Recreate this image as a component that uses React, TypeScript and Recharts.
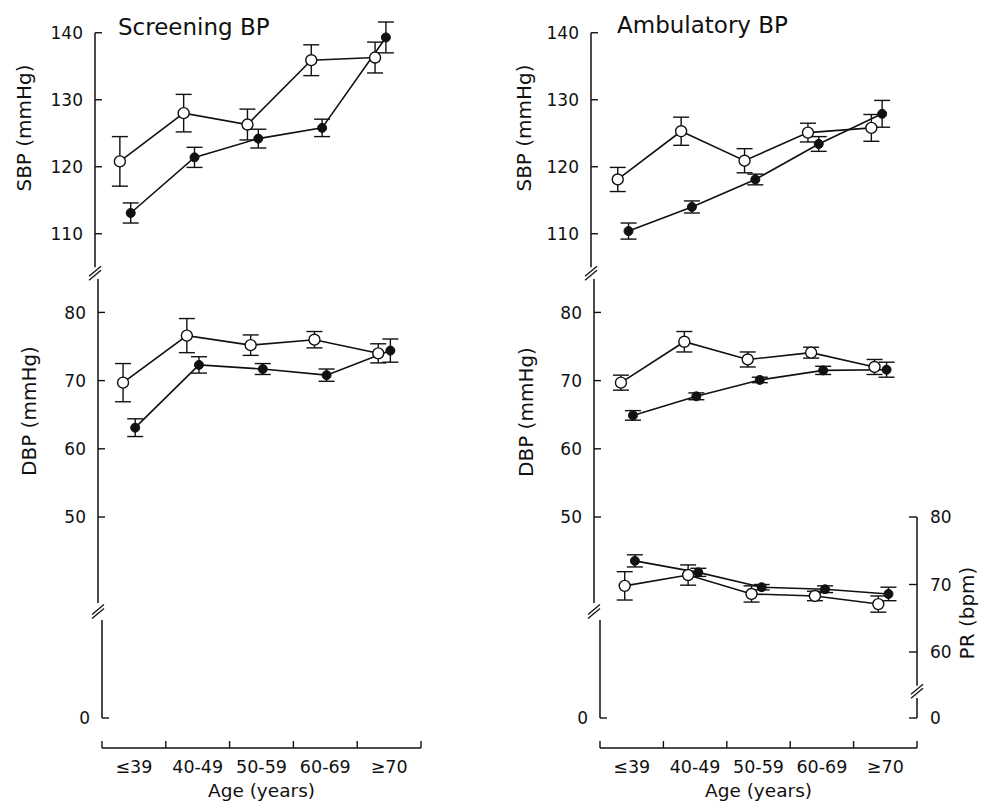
import React from 'react';
import { LineChart, Line, XAxis, YAxis, ErrorBar, ReferenceLine } from 'recharts';

const FONT = "'DejaVu Sans', 'Liberation Sans', Arial, sans-serif";
const INK = '#111';

// ---------------- data ----------------
const ageGroups = ['≤39', '40-49', '50-59', '60-69', '≥70'];
const sbpTicks = [110, 120, 130, 140];
const dbpTicks = [50, 60, 70, 80];
const prTicks = [60, 70, 80];
const zeroTicks = [0];

// Screening BP (open circles / filled circles), mean and error
const screenSbpOpen = [120.8, 128.0, 126.3, 135.9, 136.3];
const screenSbpOpenErr = [3.7, 2.8, 2.3, 2.3, 2.3];
const screenSbpFilled = [113.1, 121.4, 124.2, 125.8, 139.3];
const screenSbpFilledErr = [1.5, 1.5, 1.4, 1.3, 2.3];
const screenDbpOpen = [69.7, 76.6, 75.2, 76.0, 74.0];
const screenDbpOpenErr = [2.8, 2.5, 1.5, 1.2, 1.4];
const screenDbpFilled = [63.1, 72.3, 71.7, 70.8, 74.4];
const screenDbpFilledErr = [1.3, 1.2, 0.8, 0.9, 1.7];

// Ambulatory BP
const ambSbpOpen = [118.1, 125.3, 120.9, 125.1, 125.8];
const ambSbpOpenErr = [1.8, 2.1, 1.8, 1.4, 2.0];
const ambSbpFilled = [110.4, 114.0, 118.1, 123.4, 127.9];
const ambSbpFilledErr = [1.2, 0.9, 0.8, 1.1, 2.0];
const ambDbpOpen = [69.7, 75.7, 73.1, 74.1, 72.0];
const ambDbpOpenErr = [1.1, 1.5, 1.1, 0.8, 1.1];
const ambDbpFilled = [64.9, 67.7, 70.1, 71.5, 71.6];
const ambDbpFilledErr = [0.7, 0.5, 0.4, 0.6, 1.1];
const ambPrOpen = [69.8, 71.4, 68.6, 68.3, 67.1];
const ambPrOpenErr = [2.1, 1.5, 1.2, 0.7, 1.2];
const ambPrFilled = [73.5, 71.8, 69.6, 69.3, 68.6];
const ambPrFilledErr = [0.9, 0.6, 0.4, 0.5, 1.0];

// ---------------- layout ----------------
const DODGE_SBP: [number, number] = [-0.22, -0.05];
const DODGE_DBP: [number, number] = [-0.17, 0.02];
const DODGE_PR: [number, number] = [-0.11, 0.05];

type Geom = { ref: number; refPx: number; ppu: number; domain: [number, number] };
const pxOf = (g: Geom, v: number) => g.refPx + (g.ref - v) * g.ppu;

const SBP_G: Geom = { ref: 140, refPx: 32.3, ppu: 6.7, domain: [105, 142.5] };
const DBP_G: Geom = { ref: 80, refPx: 312.7, ppu: 6.82, domain: [37.4, 84.9] };
const PR_G: Geom = { ref: 80, refPx: 516.7, ppu: 6.75, domain: [55, 80] };
const BOT_G: Geom = { ref: 0, refPx: 718, ppu: 98, domain: [-30 / 98, 1] };
const BOT_RIGHT_TOP = 20 / 98;

type PanelGeom = { x0: number; x5: number; axisX: [number, number, number] };
const LEFT_P: PanelGeom = { x0: 102, x5: 421, axisX: [95, 98, 102] };
const RIGHT_P: PanelGeom = { x0: 600, x5: 917, axisX: [591, 594, 600] };

const PAD = 70;
const PAD_T = 20;
const PAD_B = 70;
const Y_AXIS_W = 50;
const X_AXIS_H = 30;

const xTickVals: number[] = [];
for (let i = 0; i <= ageGroups.length; i++) {
  xTickVals.push(i);
  if (i < ageGroups.length) xTickVals.push(i + 0.5);
}

type Pt = { x: number; y: number; e: number };
const toPoints = (vals: number[], errs: number[], dodge: number): Pt[] =>
  vals.map((v, i) => ({ x: i + 0.5 + dodge, y: v, e: errs[i] }));

// ---------------- ticks ----------------
const BreakMark = ({ x, y }: { x: number; y: number }) => (
  <g stroke={INK} strokeWidth={1.3}>
    <line x1={x - 6} y1={y + 3} x2={x + 6} y2={y - 7} />
    <line x1={x - 6} y1={y + 7} x2={x + 6} y2={y - 3} />
  </g>
);

const makeLeftTick = (breakVal: number | null, breakDy: number) => (p: any) => {
  const { x, y, payload } = p;
  const v = payload.value;
  if (breakVal !== null && v === breakVal) return <BreakMark x={x} y={y + breakDy} />;
  return (
    <g>
      <line x1={x} x2={x + 7} y1={y} y2={y} stroke={INK} strokeWidth={1.4} />
      <text x={x - 12} y={y} dy="0.36em" textAnchor="end" fontSize={17} fontFamily={FONT} fill={INK}>
        {v}
      </text>
    </g>
  );
};

const makeRightTick = (breakVal: number | null, breakDy: number) => (p: any) => {
  const { x, y, payload } = p;
  const v = payload.value;
  if (breakVal !== null && v === breakVal) return <BreakMark x={x} y={y + breakDy} />;
  return (
    <g>
      <line x1={x - 8} x2={x} y1={y} y2={y} stroke={INK} strokeWidth={1.4} />
      <text x={x + 13} y={y} dy="0.36em" textAnchor="start" fontSize={17} fontFamily={FONT} fill={INK}>
        {v}
      </text>
    </g>
  );
};

const XTick = (p: any) => {
  const { x, y, payload } = p;
  const v = payload.value;
  if (Number.isInteger(v)) {
    return <line x1={x} x2={x} y1={y} y2={y - 7} stroke={INK} strokeWidth={1.4} />;
  }
  return (
    <text x={x} y={y + 25} textAnchor="middle" fontSize={17.5} fontFamily={FONT} fill={INK}>
      {ageGroups[Math.floor(v)]}
    </text>
  );
};

// ---------------- series ----------------
function seriesLines(
  id: string,
  openVals: number[],
  openErr: number[],
  filledVals: number[],
  filledErr: number[],
  dodge: [number, number],
  yAxisId: string = 'l'
) {
  return [
    <Line
      key={id + '-f'}
      yAxisId={yAxisId}
      data={toPoints(filledVals, filledErr, dodge[1])}
      dataKey="y"
      stroke={INK}
      strokeWidth={1.6}
      isAnimationActive={false}
      activeDot={false}
      dot={{ r: 4.5, fill: INK, stroke: INK, strokeWidth: 1 }}
    >
      <ErrorBar dataKey="e" width={8} stroke={INK} strokeWidth={1.4} direction="y" isAnimationActive={false} />
    </Line>,
    <Line
      key={id + '-o'}
      yAxisId={yAxisId}
      data={toPoints(openVals, openErr, dodge[0])}
      dataKey="y"
      stroke={INK}
      strokeWidth={1.6}
      isAnimationActive={false}
      activeDot={false}
      dot={{ r: 5.5, fill: '#fff', stroke: INK, strokeWidth: 1.4 }}
    >
      <ErrorBar dataKey="e" width={8} stroke={INK} strokeWidth={1.4} direction="y" isAnimationActive={false} />
    </Line>,
  ];
}

// ---------------- segment chart ----------------
type SegProps = {
  panel: PanelGeom;
  axisX: number;
  g: Geom;
  leftTicks?: number[];
  leftTick?: any;
  rightTicks?: number[];
  rightTick?: any;
  withXAxis?: boolean;
  render: (xd: [number, number]) => React.ReactNode;
};

function Seg({ panel, axisX, g, leftTicks, leftTick, rightTicks, rightTick, withXAxis, render }: SegProps) {
  const plotLeft = axisX;
  const plotRight = panel.x5;
  const top = pxOf(g, g.domain[1]);
  const bottom = pxOf(g, g.domain[0]);
  const band = (panel.x5 - panel.x0) / ageGroups.length;
  const xd: [number, number] = [(plotLeft - panel.x0) / band, (plotRight - panel.x0) / band];
  const L = plotLeft - PAD;
  const T = top - PAD_T;
  const W = plotRight - plotLeft + 2 * PAD;
  const H = bottom - top + PAD_T + PAD_B;
  const margin = {
    top: PAD_T,
    bottom: PAD_B - (withXAxis ? X_AXIS_H : 0),
    left: PAD - (leftTicks ? Y_AXIS_W : 0),
    right: PAD - (rightTicks ? Y_AXIS_W : 0),
  };
  return (
    <div style={{ position: 'absolute', left: L, top: T }}>
      <LineChart width={W} height={H} margin={margin}>
        <XAxis
          type="number"
          dataKey="x"
          domain={xd}
          allowDataOverflow
          hide={!withXAxis}
          height={withXAxis ? X_AXIS_H : 0}
          ticks={withXAxis ? xTickVals : undefined}
          tick={withXAxis ? XTick : false}
          interval={0}
          tickLine={false}
          tickSize={0}
          tickMargin={0}
          axisLine={{ stroke: INK, strokeWidth: 1.4 }}
        />
        <YAxis
          yAxisId="l"
          type="number"
          domain={g.domain}
          allowDataOverflow
          hide={!leftTicks}
          width={leftTicks ? Y_AXIS_W : 0}
          ticks={leftTicks}
          tick={leftTick || false}
          interval={0}
          tickLine={false}
          tickSize={0}
          tickMargin={0}
          axisLine={false}
        />
        {rightTicks && (
          <YAxis
            yAxisId="r"
            orientation="right"
            type="number"
            domain={g.domain}
            allowDataOverflow
            width={Y_AXIS_W}
            ticks={rightTicks}
            tick={rightTick}
            interval={0}
            tickLine={false}
            tickSize={0}
            tickMargin={0}
            axisLine={false}
          />
        )}
        {render(xd)}
      </LineChart>
    </div>
  );
}

const axisSeg = (x: number, y1: number, y2: number, yAxisId: string = 'l') => (
  <ReferenceLine
    key={`ax-${yAxisId}-${y1}`}
    yAxisId={yAxisId}
    segment={[
      { x, y: y1 },
      { x, y: y2 },
    ]}
    stroke={INK}
    strokeWidth={1.5}
    ifOverflow="visible"
  />
);

// ---------------- app ----------------
export default function App() {
  const sbpTickVals = [105, ...sbpTicks];
  const dbpTickVals = [DBP_G.domain[0], ...dbpTicks];
  const prTickVals = [PR_G.domain[0], ...prTicks];

  return (
    <div
      style={{
        position: 'absolute',
        left: 0,
        top: 0,
        width: 982,
        height: 803,
        background: '#fff',
        overflow: 'hidden',
        fontFamily: FONT,
      }}
    >
      {/* ----- Screening BP ----- */}
      <Seg
        panel={LEFT_P}
        axisX={LEFT_P.axisX[0]}
        g={SBP_G}
        leftTicks={sbpTickVals}
        leftTick={makeLeftTick(105, 6)}
        render={(xd) => [
          axisSeg(xd[0], 105, 140),
          ...seriesLines('ssbp', screenSbpOpen, screenSbpOpenErr, screenSbpFilled, screenSbpFilledErr, DODGE_SBP),
        ]}
      />
      <Seg
        panel={LEFT_P}
        axisX={LEFT_P.axisX[1]}
        g={DBP_G}
        leftTicks={dbpTickVals}
        leftTick={makeLeftTick(DBP_G.domain[0], 8.5)}
        render={(xd) => [
          axisSeg(xd[0], DBP_G.domain[0], DBP_G.domain[1]),
          ...seriesLines('sdbp', screenDbpOpen, screenDbpOpenErr, screenDbpFilled, screenDbpFilledErr, DODGE_DBP),
        ]}
      />
      <Seg
        panel={LEFT_P}
        axisX={LEFT_P.axisX[2]}
        g={BOT_G}
        leftTicks={zeroTicks}
        leftTick={makeLeftTick(null, 0)}
        withXAxis
        render={(xd) => [axisSeg(xd[0], 0, 1)]}
      />

      {/* ----- Ambulatory BP ----- */}
      <Seg
        panel={RIGHT_P}
        axisX={RIGHT_P.axisX[0]}
        g={SBP_G}
        leftTicks={sbpTickVals}
        leftTick={makeLeftTick(105, 6)}
        render={(xd) => [
          axisSeg(xd[0], 105, 140),
          ...seriesLines('asbp', ambSbpOpen, ambSbpOpenErr, ambSbpFilled, ambSbpFilledErr, DODGE_SBP),
        ]}
      />
      <Seg
        panel={RIGHT_P}
        axisX={RIGHT_P.axisX[1]}
        g={DBP_G}
        leftTicks={dbpTickVals}
        leftTick={makeLeftTick(DBP_G.domain[0], 8.5)}
        render={(xd) => [
          axisSeg(xd[0], DBP_G.domain[0], DBP_G.domain[1]),
          ...seriesLines('adbp', ambDbpOpen, ambDbpOpenErr, ambDbpFilled, ambDbpFilledErr, DODGE_DBP),
        ]}
      />
      <Seg
        panel={RIGHT_P}
        axisX={RIGHT_P.axisX[2]}
        g={PR_G}
        rightTicks={prTickVals}
        rightTick={makeRightTick(PR_G.domain[0], 5.5)}
        render={(xd) => [
          axisSeg(xd[1], PR_G.domain[0], PR_G.domain[1], 'r'),
          ...seriesLines('apr', ambPrOpen, ambPrOpenErr, ambPrFilled, ambPrFilledErr, DODGE_PR, 'r'),
        ]}
      />
      <Seg
        panel={RIGHT_P}
        axisX={RIGHT_P.axisX[2]}
        g={BOT_G}
        leftTicks={zeroTicks}
        leftTick={makeLeftTick(null, 0)}
        rightTicks={zeroTicks}
        rightTick={makeRightTick(null, 0)}
        withXAxis
        render={(xd) => [axisSeg(xd[0], 0, 1), axisSeg(xd[1], 0, BOT_RIGHT_TOP, 'r')]}
      />

      {/* ----- titles and axis titles ----- */}
      <svg
        width={982}
        height={803}
        style={{ position: 'absolute', left: 0, top: 0, pointerEvents: 'none' }}
        fontFamily={FONT}
        fill={INK}
      >
        <text x={118} y={35} fontSize={23}>Screening BP</text>
        <text x={617} y={33} fontSize={23}>Ambulatory BP</text>
        <text transform="translate(31,128) rotate(-90)" textAnchor="middle" fontSize={20}>SBP (mmHg)</text>
        <text transform="translate(36,411) rotate(-90)" textAnchor="middle" fontSize={20}>DBP (mmHg)</text>
        <text transform="translate(531,128) rotate(-90)" textAnchor="middle" fontSize={20}>SBP (mmHg)</text>
        <text transform="translate(533,412) rotate(-90)" textAnchor="middle" fontSize={20}>DBP (mmHg)</text>
        <text transform="translate(974,613) rotate(-90)" textAnchor="middle" fontSize={20}>PR (bpm)</text>
        <text x={261.5} y={797} textAnchor="middle" fontSize={18.5}>Age (years)</text>
        <text x={758.5} y={797} textAnchor="middle" fontSize={18.5}>Age (years)</text>
      </svg>
    </div>
  );
}
